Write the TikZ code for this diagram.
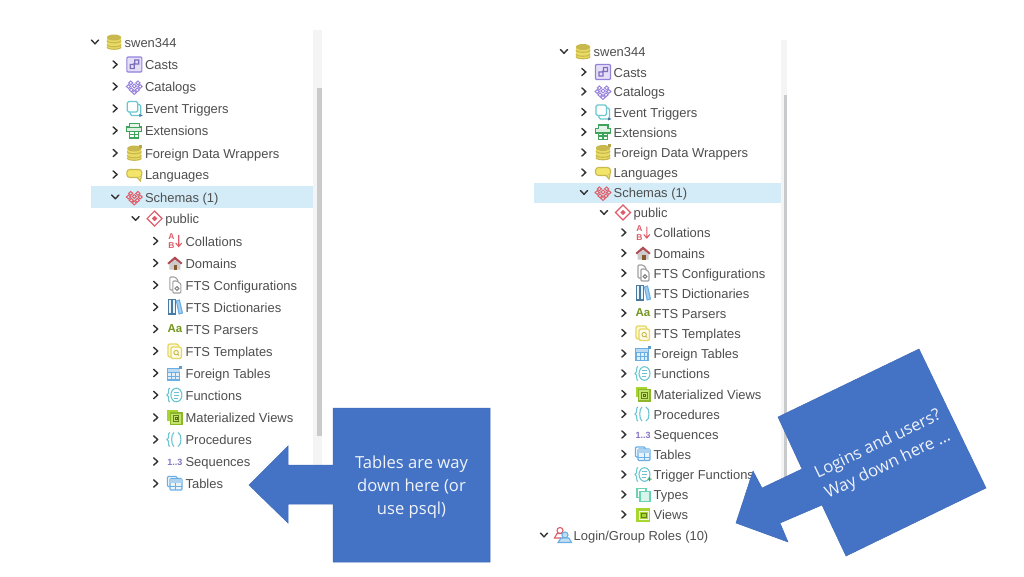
\documentclass[tikz,border=0pt]{standalone}
\usepackage{fontspec}
\setmainfont{Liberation Sans}
\newfontfamily\callfont{Open Sans}
\definecolor{blu}{HTML}{4472C4}
\definecolor{bluedge}{HTML}{3F6CB8}
\definecolor{treetxt}{HTML}{4E4E4E}
\definecolor{hl}{HTML}{D3ECF8}
\definecolor{track}{HTML}{F4F4F5}
\definecolor{thumb}{HTML}{C9CACC}
\definecolor{ygold}{HTML}{C8B84E}
\definecolor{ypale}{HTML}{F2E56A}
\definecolor{purp}{HTML}{9580DC}
\definecolor{teal1}{HTML}{6CC6D0}
\definecolor{grn}{HTML}{3FA45B}
\definecolor{redp}{HTML}{DE5C68}
\definecolor{lime}{HTML}{A6D62F}
\definecolor{sky}{HTML}{6AAEE4}
\definecolor{gry}{HTML}{A0A0A0}
\definecolor{mint}{HTML}{69D2B0}
\definecolor{chev}{HTML}{333333}
\newcommand\chevR[2]{\draw[chevst] (#1-2.2,#2-3.6)--(#1+1.8,#2)--(#1-2.2,#2+3.6);}
\newcommand\chevD[2]{\draw[chevst] (#1-3.6,#2-2)--(#1,#2+1.8)--(#1+3.6,#2-2);}
\newcommand\Ro[6]{% name, level, y, chevron kind, icon, text
  \pgfmathsetmacro\cx{95+\stp*#2+\dx}\pgfmathsetmacro\ix{114+\stp*#2+\dx}\pgfmathsetmacro\tx{124.5+\stp*#2+\dx}
  \csname chev#4\endcsname{\cx}{#3}
  \pic at (\ix,#3) {#5};
  \node[rowtext] (#1) at (\tx,#3+5) {#6};}
\tikzset{
  x=1pt,y=-1pt,
  rowtext/.style={anchor=base west,inner sep=0pt,text=treetxt,font=\fontsize{12.95}{15}\selectfont},
  chevst/.style={draw=chev,line width=1.4pt,line cap=round,line join=round},
  callout/.style={fill=blu,draw=bluedge,line width=0.5pt},
  calltext/.style={text=white!92!blu,align=center,inner sep=0pt,font=\callfont\fontsize{16.6}{22.8}\selectfont},
  pics/db/.style={code={
    \fill[ypale!75!ygold] (-7,-5.5)--(7,-5.5)--(7,5) .. controls (7,8.2) and (-7,8.2) .. (-7,5) -- cycle;
    \foreach \yy in {-1.5,2.5,5}{\draw[ygold,line width=1.1pt] (-7,\yy) .. controls (-7,\yy+3) and (7,\yy+3) .. (7,\yy);}
    \fill[ygold] (0,-4.5) ellipse[x radius=7,y radius=3];}},
  pics/dbf/.style={code={\pic {db}; \fill[ygold!90!black] (5,-8.5) rectangle (8,-5.5);}},
  pics/casts/.style={code={
    \draw[purp,fill=purp!25,rounded corners=1pt,line width=1.1pt] (-7.5,-7.5) rectangle (7.5,7.5);
    \draw[purp!85!black,line width=1.2pt] (-4,4) rectangle (0,0) (0.5,-4.5) rectangle (4.5,-0.5) (-1.5,0)--(1,-1.5);}},
  pics/diam/.style={code={
    \foreach \a/\b in {-3.6/-3.6,3.6/-3.6,-5.8/0,0/-0.5,5.8/0,-3/3.3,3/3.3,0/6}{\draw[#1,line width=1pt] (\a,\b-1.9) -- (\a+2.1,\b) -- (\a,\b+1.9) -- (\a-2.1,\b) -- cycle;}}},
  pics/evt/.style={code={
    \draw[teal1,line width=1.2pt,rounded corners=1.5pt] (-7,-7) rectangle (3.5,3.5);
    \draw[teal1,line width=1.2pt,rounded corners=1.5pt] (-4,3.5)--(-4,7)--(6.5,7)--(6.5,-4)--(3.5,-4);
    \fill[sky!70!black] (5,5.5) -- (8.5,7) -- (5,8.5) -- cycle;}},
  pics/ext/.style={code={
    \draw[grn,line width=1.1pt,fill=grn!18] (-7.5,-3.5) rectangle (7.5,1);
    \draw[grn,line width=1.1pt,fill=grn!12] (-4.5,-3.5)--(-4.5,-7)--(5,-7)--(5,-3.5);
    \draw[grn,line width=1.1pt] (-4.5,1)--(-4.5,7.5)--(4.5,7.5)--(4.5,1) (0,1)--(0,7.5) (-4.5,4)--(4.5,4);}},
  pics/lang/.style={code={
    \draw[ygold,line width=1.1pt,fill=ypale,rounded corners=3pt] (-7.5,-5) rectangle (7.5,3);
    \draw[ygold,line width=1.1pt,fill=ypale] (3,3)--(6,6.5)--(7,2.5);}},
  pics/pub/.style={code={
    \draw[redp,line width=1.2pt,fill=white] (-7.5,0)--(0,-7.5)--(7.5,0)--(0,7.5)--cycle;
    \fill[redp] (-2.7,0)--(0,-2.7)--(2.7,0)--(0,2.7)--cycle;}},
  pics/coll/.style={code={
    \node[inner sep=0pt,text=redp,font=\bfseries\fontsize{8.5}{8}\selectfont] at (-3.5,-4.2) {A};
    \node[inner sep=0pt,text=redp,font=\bfseries\fontsize{8.5}{8}\selectfont] at (-3.5,4.6) {B};
    \draw[redp,line width=1.1pt] (3.8,-6)--(3.8,5) (0.8,2)--(3.8,5.5)--(6.8,2);}},
  pics/dom/.style={code={
    \fill[redp!80!black] (-7.5,0)--(0,-6.5)--(7.5,0)--(6,1.5)--(0,-3.5)--(-6,1.5)--cycle;
    \fill[gry!55] (-5.5,1)--(0,-3)--(5.5,1)--(5.5,6.5)--(-5.5,6.5)--cycle;
    \fill[brown!70!black] (-1,2) rectangle (2.5,6.5);}},
  pics/cfg/.style={code={
    \draw[gry,line width=1.1pt,fill=white,rounded corners=1pt] (-5,-8)--(0,-8)--(3,-5)--(3,5)--(-5,5)--cycle;
    \draw[gry,line width=1.1pt,fill=white,rounded corners=1pt] (-2,-4)--(2,-4)--(6,-1)--(6,8)--(-2,8)--cycle;
    \draw[gry!80!black,line width=1pt] (2,3.5) circle[radius=1.9];}},
  pics/dict/.style={code={
    \draw[sky!70!black,line width=1.1pt,fill=sky!15] (-6.5,-7.5) rectangle (-3,7);
    \draw[sky!70!black,line width=1.1pt,fill=sky!15] (-2.5,-7.5) rectangle (0.5,7);
    \draw[sky,line width=1.1pt,fill=sky!60] (1.5,-6)--(4.5,-7)--(7.5,6)--(4.2,7)--cycle;}},
  pics/aa/.style={code={
    \node[inner sep=0pt,text=lime!70!black,font=\bfseries\fontsize{11.5}{12}\selectfont] at (0,0) {Aa};}},
  pics/tmpl/.style={code={
    \draw[ypale!70!ygold,line width=1.3pt,fill=ypale!25,rounded corners=2pt] (-7,-7) rectangle (3.5,6);
    \draw[ypale!70!ygold,line width=1.3pt,fill=ypale!15,rounded corners=2pt] (-4,-4) rectangle (6.5,7.5);
    \draw[ygold,line width=0.9pt] (1.2,1.6) circle[radius=2.2] (2.8,3.2)--(4.2,4.6);}},
  pics/ftab/.style={code={
    \draw[sky,line width=1.1pt,fill=sky!20] (-7,-4.5) rectangle (5,7);
    \fill[sky!45] (-7,-4.5) rectangle (5,-1);
    \draw[sky,line width=1pt] (-7,-1)--(5,-1) (-7,3)--(5,3) (-3,-1)--(-3,7) (1,-1)--(1,7);
    \fill[sky!90!black] (4.5,-7.5) rectangle (7.5,-4.5);}},
  pics/fn/.style={code={
    \draw[teal1,line width=1.1pt] (-5,-7) .. controls (-7.5,-7) and (-5,-1) .. (-8,0) .. controls (-5,1) and (-7.5,7) .. (-5,7);
    \draw[teal1,line width=1.1pt] (1.5,0) ellipse[x radius=5.5,y radius=6.8];
    \draw[teal1!80!sky,line width=1pt] (-0.8,-3)--(3.8,-3) (-0.8,0)--(3.8,0) (-0.8,3)--(3.2,3);}},
  pics/proc/.style={code={
    \draw[teal1,line width=1.1pt] (-5,-7) .. controls (-7.5,-7) and (-5,-1) .. (-8,0) .. controls (-5,1) and (-7.5,7) .. (-5,7);
    \draw[teal1,line width=1.1pt] (-1,-7) .. controls (-4,-5) and (-4,5) .. (-1,7) (3,-7) .. controls (7,-6) and (7,6) .. (3,7);}},
  pics/mv/.style={code={
    \fill[lime] (-7.5,-7.5) rectangle (3.5,3);
    \draw[lime!85!black,line width=1.2pt,fill=lime!70] (-4.5,-4.5) rectangle (7,7);
    \draw[lime!60!black,line width=0.9pt] (-1.8,-1.8) rectangle (4,4);
    \draw[lime!50!black,line width=0.8pt] (0,0) rectangle (2.3,2.3);}},
  pics/view/.style={code={
    \fill[lime] (-7,-7) rectangle (7,7);
    \draw[white!85!lime,line width=1pt] (-3.5,-3.5) rectangle (5,5);
    \draw[lime!60!black,line width=0.8pt] (-1.5,-1.5) rectangle (3,3);}},
  pics/seq/.style={code={
    \node[inner sep=0pt,text=purp!90!black,font=\bfseries\fontsize{9}{10}\selectfont] at (0,0.5) {1..3};}},
  pics/tab/.style={code={
    \draw[sky,line width=1.2pt,fill=white,rounded corners=1pt] (-7.5,-7) rectangle (2,3);
    \draw[sky,line width=1.2pt,fill=sky!15,rounded corners=1pt] (-5,-5) rectangle (7,6.5);
    \fill[sky!55] (-5,-5) rectangle (7,-1);
    \draw[sky,line width=0.9pt] (-5,3)--(7,3) (1,-1)--(1,6.5);}},
  pics/trig/.style={code={
    \pic {fn};
    \fill[grn] (4.5,4) rectangle (8.5,5.2) (5.9,2.6) rectangle (7.1,6.6);}},
  pics/typ/.style={code={
    \draw[mint,line width=1.2pt,fill=white] (-6,-6) rectangle (3,3);
    \draw[mint,line width=1.2pt,fill=mint!25] (-3,-3) rectangle (7,7);}},
  pics/roles/.style={code={
    \draw[redp,line width=1.1pt,fill=white] (-3,-4.5) circle[radius=3];
    \draw[redp,line width=1.1pt,fill=white] (-8.5,3)--(-6,-1.5)--(0,-1.5)--(3,3)--cycle;
    \draw[sky,line width=1.1pt,fill=sky!40] (2,0) circle[radius=3];
    \draw[sky,line width=1.1pt,fill=sky!40] (-5,7.5)--(-2,3)--(6,3)--(8.5,7.5)--cycle;}},
}
\begin{document}
\begin{tikzpicture}
\useasboundingbox (0,0) rectangle (1024,576);
\fill[white] (0,0) rectangle (1024,576);
% panels
\fill[track] (313,30) rectangle (322,470);
\fill[thumb] (317,88) rectangle (322,436);
\fill[hl] (91,186) rectangle (313,208);
\fill[track] (781,40) rectangle (787,505);
\fill[thumb] (784,95) rectangle (787,505);
\fill[hl] (534,183) rectangle (781,203);
% left tree
\def\dx{0}\def\stp{20.3}
\Ro{a0}{0}{42}{D}{db}{swen344}
\Ro{a1}{1}{64.5}{R}{casts}{Casts}
\Ro{a2}{1}{86.5}{R}{{diam=purp}}{Catalogs}
\Ro{a3}{1}{108.5}{R}{evt}{Event Triggers}
\Ro{a4}{1}{130.5}{R}{ext}{Extensions}
\Ro{a5}{1}{153}{R}{dbf}{Foreign Data Wrappers}
\Ro{a6}{1}{174.5}{R}{lang}{Languages}
\Ro{a7}{1}{197}{D}{{diam=redp}}{Schemas (1)}
\Ro{a8}{2}{218.5}{D}{pub}{public}
\Ro{a9}{3}{241}{R}{coll}{Collations}
\Ro{a10}{3}{263}{R}{dom}{Domains}
\Ro{a11}{3}{285}{R}{cfg}{FTS Configurations}
\Ro{a12}{3}{307}{R}{dict}{FTS Dictionaries}
\Ro{a13}{3}{329}{R}{aa}{FTS Parsers}
\Ro{a14}{3}{351}{R}{tmpl}{FTS Templates}
\Ro{a15}{3}{373}{R}{ftab}{Foreign Tables}
\Ro{a16}{3}{395}{R}{fn}{Functions}
\Ro{a17}{3}{417.5}{R}{mv}{Materialized Views}
\Ro{a18}{3}{439.5}{R}{proc}{Procedures}
\Ro{a19}{3}{461.5}{R}{seq}{Sequences}
\Ro{a20}{3}{483.5}{R}{tab}{Tables}
% right tree
\def\dx{469}\def\stp{20}
\Ro{b0}{0}{51.5}{D}{db}{swen344}
\Ro{b1}{1}{72}{R}{casts}{Casts}
\Ro{b2}{1}{91.5}{R}{{diam=purp}}{Catalogs}
\Ro{b3}{1}{112}{R}{evt}{Event Triggers}
\Ro{b4}{1}{132}{R}{ext}{Extensions}
\Ro{b5}{1}{152.5}{R}{dbf}{Foreign Data Wrappers}
\Ro{b6}{1}{172.5}{R}{lang}{Languages}
\Ro{b7}{1}{192.5}{D}{{diam=redp}}{Schemas (1)}
\Ro{b8}{2}{212.5}{D}{pub}{public}
\Ro{b9}{3}{232.5}{R}{coll}{Collations}
\Ro{b10}{3}{253}{R}{dom}{Domains}
\Ro{b11}{3}{273}{R}{cfg}{FTS Configurations}
\Ro{b12}{3}{293}{R}{dict}{FTS Dictionaries}
\Ro{b13}{3}{313}{R}{aa}{FTS Parsers}
\Ro{b14}{3}{333}{R}{tmpl}{FTS Templates}
\Ro{b15}{3}{353.5}{R}{ftab}{Foreign Tables}
\Ro{b16}{3}{373.5}{R}{fn}{Functions}
\Ro{b17}{3}{394}{R}{mv}{Materialized Views}
\Ro{b18}{3}{414}{R}{proc}{Procedures}
\Ro{b19}{3}{434.5}{R}{seq}{Sequences}
\Ro{b20}{3}{454}{R}{tab}{Tables}
\Ro{b21}{3}{474.5}{R}{trig}{Trigger Functions}
\Ro{b22}{3}{494.5}{R}{typ}{Types}
\Ro{b23}{3}{514.5}{R}{view}{Views}
\Ro{b24}{-1}{535}{D}{roles}{Login/Group Roles (10)}
% callouts
\draw[callout] (333,408)--(490,408)--(490,562)--(333,562)--(333,504)--(288,504)--(288,523)--(249,485)--(288,446)--(288,465)--(333,465)--cycle;
\node[calltext] (c1) at (411.5,487) {Tables are way\\down here (or\\use psql)};
\draw[callout] (919,349)--(986,488)--(846,556)--(822,505)--(780,523)--(788,542)--(736,523)--(753,471)--(762,488)--(802,469)--(778,417)--cycle;
\node[calltext,rotate=25.7] (c2) at (883,455) {Logins and users?\\Way down here …};
\end{tikzpicture}
\end{document}
